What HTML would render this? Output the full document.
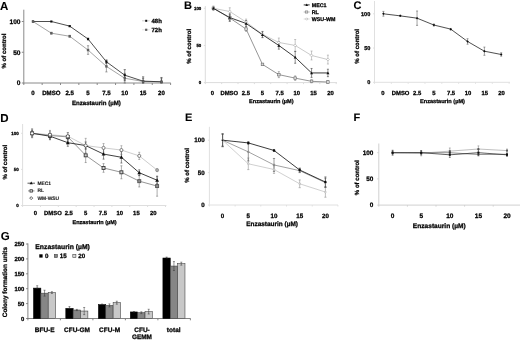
<!DOCTYPE html>
<html><head><meta charset="utf-8"><title>Figure</title>
<style>
html,body{margin:0;padding:0;background:#fff;}
body{width:520px;height:340px;overflow:hidden;font-family:"Liberation Sans", sans-serif;}
svg{display:block;font-family:"Liberation Sans", sans-serif;text-rendering:geometricPrecision;}
</style></head><body>
<svg width="520" height="340" viewBox="0 0 520 340">
<rect x="0" y="0" width="520" height="340" fill="#ffffff"/>
<defs><filter id="soft" x="0" y="0" width="520" height="340" filterUnits="userSpaceOnUse"><feGaussianBlur stdDeviation="0.3"/></filter></defs>
<g filter="url(#soft)">
<line x1="23.80" y1="9.70" x2="23.80" y2="83.50" stroke="#8a8a8a" stroke-width="1" />
<line x1="23.30" y1="83.00" x2="170.80" y2="83.00" stroke="#8a8a8a" stroke-width="1" />
<line x1="23.80" y1="83.00" x2="23.80" y2="85.00" stroke="#8a8a8a" stroke-width="1" />
<line x1="42.15" y1="83.00" x2="42.15" y2="85.00" stroke="#8a8a8a" stroke-width="1" />
<line x1="60.50" y1="83.00" x2="60.50" y2="85.00" stroke="#8a8a8a" stroke-width="1" />
<line x1="78.85" y1="83.00" x2="78.85" y2="85.00" stroke="#8a8a8a" stroke-width="1" />
<line x1="97.20" y1="83.00" x2="97.20" y2="85.00" stroke="#8a8a8a" stroke-width="1" />
<line x1="115.55" y1="83.00" x2="115.55" y2="85.00" stroke="#8a8a8a" stroke-width="1" />
<line x1="133.90" y1="83.00" x2="133.90" y2="85.00" stroke="#8a8a8a" stroke-width="1" />
<line x1="152.25" y1="83.00" x2="152.25" y2="85.00" stroke="#8a8a8a" stroke-width="1" />
<line x1="170.60" y1="83.00" x2="170.60" y2="85.00" stroke="#8a8a8a" stroke-width="1" />
<line x1="21.80" y1="83.00" x2="23.80" y2="83.00" stroke="#8a8a8a" stroke-width="1" />
<line x1="21.80" y1="52.25" x2="23.80" y2="52.25" stroke="#8a8a8a" stroke-width="1" />
<line x1="21.80" y1="21.50" x2="23.80" y2="21.50" stroke="#8a8a8a" stroke-width="1" />
<text x="0.00" y="9.80" font-size="11.5" font-weight="bold" text-anchor="start" fill="#000" stroke="#000" stroke-width="0.1" >A</text>
<text x="20.50" y="85.30" font-size="6.6" font-weight="bold" text-anchor="end" fill="#000" stroke="#000" stroke-width="0.26" >0</text>
<text x="20.50" y="54.55" font-size="6.6" font-weight="bold" text-anchor="end" fill="#000" stroke="#000" stroke-width="0.26" >50</text>
<text x="20.50" y="23.80" font-size="6.6" font-weight="bold" text-anchor="end" fill="#000" stroke="#000" stroke-width="0.26" >100</text>
<text x="6.30" y="51.10" font-size="6.05" font-weight="bold" text-anchor="middle" fill="#000" stroke="#000" stroke-width="0.26" transform="rotate(-90 6.30 51.10)" >% of control</text>
<text x="33.00" y="95.00" font-size="6.1" font-weight="bold" text-anchor="middle" fill="#000" stroke="#000" stroke-width="0.26" >0</text>
<text x="51.35" y="95.00" font-size="6.1" font-weight="bold" text-anchor="middle" fill="#000" stroke="#000" stroke-width="0.26" >DMSO</text>
<text x="69.70" y="95.00" font-size="6.1" font-weight="bold" text-anchor="middle" fill="#000" stroke="#000" stroke-width="0.26" >2.5</text>
<text x="88.05" y="95.00" font-size="6.1" font-weight="bold" text-anchor="middle" fill="#000" stroke="#000" stroke-width="0.26" >5</text>
<text x="106.40" y="95.00" font-size="6.1" font-weight="bold" text-anchor="middle" fill="#000" stroke="#000" stroke-width="0.26" >7.5</text>
<text x="124.75" y="95.00" font-size="6.1" font-weight="bold" text-anchor="middle" fill="#000" stroke="#000" stroke-width="0.26" >10</text>
<text x="143.10" y="95.00" font-size="6.1" font-weight="bold" text-anchor="middle" fill="#000" stroke="#000" stroke-width="0.26" >15</text>
<text x="161.45" y="95.00" font-size="6.1" font-weight="bold" text-anchor="middle" fill="#000" stroke="#000" stroke-width="0.26" >20</text>
<text x="96.40" y="104.50" font-size="6.1" font-weight="bold" text-anchor="middle" fill="#000" stroke="#000" stroke-width="0.26" >Enzastaurin (&#181;M)</text>
<polyline points="33.00,21.50 51.35,33.19 69.70,36.26 88.05,50.04 106.40,66.39 124.75,78.26 143.10,81.46 161.45,81.77" fill="none" stroke="#8e8e8e" stroke-width="0.8" stroke-linejoin="round"/>
<polyline points="33.00,21.50 51.35,21.50 69.70,26.11 88.05,39.03 106.40,61.78 124.75,75.19 143.10,81.16 161.45,81.77" fill="none" stroke="#2e2e2e" stroke-width="0.85" stroke-linejoin="round"/>
<line x1="51.35" y1="32.26" x2="51.35" y2="34.11" stroke="#666" stroke-width="0.6" />
<line x1="50.25" y1="32.26" x2="52.45" y2="32.26" stroke="#666" stroke-width="0.6" />
<line x1="50.25" y1="34.11" x2="52.45" y2="34.11" stroke="#666" stroke-width="0.6" />
<line x1="69.70" y1="35.34" x2="69.70" y2="37.18" stroke="#666" stroke-width="0.6" />
<line x1="68.60" y1="35.34" x2="70.80" y2="35.34" stroke="#666" stroke-width="0.6" />
<line x1="68.60" y1="37.18" x2="70.80" y2="37.18" stroke="#666" stroke-width="0.6" />
<line x1="88.05" y1="45.73" x2="88.05" y2="54.34" stroke="#666" stroke-width="0.6" />
<line x1="86.95" y1="45.73" x2="89.15" y2="45.73" stroke="#666" stroke-width="0.6" />
<line x1="86.95" y1="54.34" x2="89.15" y2="54.34" stroke="#666" stroke-width="0.6" />
<line x1="106.40" y1="60.86" x2="106.40" y2="71.93" stroke="#666" stroke-width="0.6" />
<line x1="105.30" y1="60.86" x2="107.50" y2="60.86" stroke="#666" stroke-width="0.6" />
<line x1="105.30" y1="71.93" x2="107.50" y2="71.93" stroke="#666" stroke-width="0.6" />
<line x1="124.75" y1="73.34" x2="124.75" y2="83.00" stroke="#666" stroke-width="0.6" />
<line x1="123.65" y1="73.34" x2="125.85" y2="73.34" stroke="#666" stroke-width="0.6" />
<line x1="123.65" y1="83.00" x2="125.85" y2="83.00" stroke="#666" stroke-width="0.6" />
<line x1="143.10" y1="78.39" x2="143.10" y2="83.00" stroke="#666" stroke-width="0.6" />
<line x1="142.00" y1="78.39" x2="144.20" y2="78.39" stroke="#666" stroke-width="0.6" />
<line x1="142.00" y1="83.00" x2="144.20" y2="83.00" stroke="#666" stroke-width="0.6" />
<line x1="161.45" y1="78.69" x2="161.45" y2="83.00" stroke="#666" stroke-width="0.6" />
<line x1="160.35" y1="78.69" x2="162.55" y2="78.69" stroke="#666" stroke-width="0.6" />
<line x1="160.35" y1="83.00" x2="162.55" y2="83.00" stroke="#666" stroke-width="0.6" />
<line x1="69.70" y1="25.50" x2="69.70" y2="26.73" stroke="#333" stroke-width="0.6" />
<line x1="68.60" y1="25.50" x2="70.80" y2="25.50" stroke="#333" stroke-width="0.6" />
<line x1="68.60" y1="26.73" x2="70.80" y2="26.73" stroke="#333" stroke-width="0.6" />
<line x1="88.05" y1="38.10" x2="88.05" y2="39.95" stroke="#333" stroke-width="0.6" />
<line x1="86.95" y1="38.10" x2="89.15" y2="38.10" stroke="#333" stroke-width="0.6" />
<line x1="86.95" y1="39.95" x2="89.15" y2="39.95" stroke="#333" stroke-width="0.6" />
<line x1="106.40" y1="59.94" x2="106.40" y2="63.63" stroke="#333" stroke-width="0.6" />
<line x1="105.30" y1="59.94" x2="107.50" y2="59.94" stroke="#333" stroke-width="0.6" />
<line x1="105.30" y1="63.63" x2="107.50" y2="63.63" stroke="#333" stroke-width="0.6" />
<line x1="124.75" y1="69.65" x2="124.75" y2="80.72" stroke="#333" stroke-width="0.6" />
<line x1="123.65" y1="69.65" x2="125.85" y2="69.65" stroke="#333" stroke-width="0.6" />
<line x1="123.65" y1="80.72" x2="125.85" y2="80.72" stroke="#333" stroke-width="0.6" />
<line x1="143.10" y1="76.85" x2="143.10" y2="83.00" stroke="#333" stroke-width="0.6" />
<line x1="142.00" y1="76.85" x2="144.20" y2="76.85" stroke="#333" stroke-width="0.6" />
<line x1="142.00" y1="83.00" x2="144.20" y2="83.00" stroke="#333" stroke-width="0.6" />
<line x1="161.45" y1="77.47" x2="161.45" y2="83.00" stroke="#333" stroke-width="0.6" />
<line x1="160.35" y1="77.47" x2="162.55" y2="77.47" stroke="#333" stroke-width="0.6" />
<line x1="160.35" y1="83.00" x2="162.55" y2="83.00" stroke="#333" stroke-width="0.6" />
<rect x="31.95" y="20.45" width="2.10" height="2.10" fill="#111" stroke="none" stroke-width="0.6"/>
<rect x="50.30" y="20.45" width="2.10" height="2.10" fill="#111" stroke="none" stroke-width="0.6"/>
<rect x="68.65" y="25.06" width="2.10" height="2.10" fill="#111" stroke="none" stroke-width="0.6"/>
<rect x="87.00" y="37.98" width="2.10" height="2.10" fill="#111" stroke="none" stroke-width="0.6"/>
<rect x="105.35" y="60.73" width="2.10" height="2.10" fill="#111" stroke="none" stroke-width="0.6"/>
<rect x="123.70" y="74.14" width="2.10" height="2.10" fill="#111" stroke="none" stroke-width="0.6"/>
<rect x="142.05" y="80.11" width="2.10" height="2.10" fill="#111" stroke="none" stroke-width="0.6"/>
<rect x="160.40" y="80.72" width="2.10" height="2.10" fill="#111" stroke="none" stroke-width="0.6"/>
<rect x="31.80" y="20.30" width="2.40" height="2.40" fill="#5e5e5e" stroke="none" stroke-width="0.6"/>
<rect x="50.15" y="31.99" width="2.40" height="2.40" fill="#5e5e5e" stroke="none" stroke-width="0.6"/>
<rect x="68.50" y="35.06" width="2.40" height="2.40" fill="#5e5e5e" stroke="none" stroke-width="0.6"/>
<rect x="86.85" y="48.84" width="2.40" height="2.40" fill="#5e5e5e" stroke="none" stroke-width="0.6"/>
<rect x="105.20" y="65.19" width="2.40" height="2.40" fill="#5e5e5e" stroke="none" stroke-width="0.6"/>
<rect x="123.55" y="77.06" width="2.40" height="2.40" fill="#5e5e5e" stroke="none" stroke-width="0.6"/>
<rect x="141.90" y="80.26" width="2.40" height="2.40" fill="#5e5e5e" stroke="none" stroke-width="0.6"/>
<rect x="160.25" y="80.57" width="2.40" height="2.40" fill="#5e5e5e" stroke="none" stroke-width="0.6"/>
<line x1="142.00" y1="20.80" x2="149.70" y2="20.80" stroke="#bbb" stroke-width="0.7" />
<rect x="145.20" y="19.80" width="2.00" height="2.00" fill="#111" stroke="none" stroke-width="0.6"/>
<text x="151.50" y="23.10" font-size="6.0" font-weight="bold" text-anchor="start" fill="#000" stroke="#000" stroke-width="0.26" >48h</text>
<line x1="142.00" y1="29.80" x2="149.70" y2="29.80" stroke="#ddd" stroke-width="0.7" />
<rect x="145.10" y="28.70" width="2.20" height="2.20" fill="#5e5e5e" stroke="none" stroke-width="0.6"/>
<text x="151.50" y="32.00" font-size="6.0" font-weight="bold" text-anchor="start" fill="#000" stroke="#000" stroke-width="0.26" >72h</text>
<line x1="205.30" y1="6.00" x2="205.30" y2="83.10" stroke="#dcdcdc" stroke-width="1" />
<line x1="204.80" y1="82.60" x2="337.00" y2="82.60" stroke="#dcdcdc" stroke-width="1" />
<line x1="205.30" y1="82.60" x2="205.30" y2="84.10" stroke="#dcdcdc" stroke-width="1" />
<line x1="221.66" y1="82.60" x2="221.66" y2="84.10" stroke="#dcdcdc" stroke-width="1" />
<line x1="238.02" y1="82.60" x2="238.02" y2="84.10" stroke="#dcdcdc" stroke-width="1" />
<line x1="254.38" y1="82.60" x2="254.38" y2="84.10" stroke="#dcdcdc" stroke-width="1" />
<line x1="270.74" y1="82.60" x2="270.74" y2="84.10" stroke="#dcdcdc" stroke-width="1" />
<line x1="287.10" y1="82.60" x2="287.10" y2="84.10" stroke="#dcdcdc" stroke-width="1" />
<line x1="303.46" y1="82.60" x2="303.46" y2="84.10" stroke="#dcdcdc" stroke-width="1" />
<line x1="319.82" y1="82.60" x2="319.82" y2="84.10" stroke="#dcdcdc" stroke-width="1" />
<line x1="336.18" y1="82.60" x2="336.18" y2="84.10" stroke="#dcdcdc" stroke-width="1" />
<line x1="203.80" y1="82.60" x2="205.30" y2="82.60" stroke="#dcdcdc" stroke-width="1" />
<line x1="203.80" y1="45.45" x2="205.30" y2="45.45" stroke="#dcdcdc" stroke-width="1" />
<line x1="203.80" y1="8.30" x2="205.30" y2="8.30" stroke="#dcdcdc" stroke-width="1" />
<text x="184.00" y="9.30" font-size="11" font-weight="bold" text-anchor="start" fill="#000" stroke="#000" stroke-width="0.1" >B</text>
<text x="201.30" y="84.20" font-size="4.4" font-weight="bold" text-anchor="end" fill="#000" stroke="#000" stroke-width="0.26" >0</text>
<text x="201.30" y="47.05" font-size="4.4" font-weight="bold" text-anchor="end" fill="#000" stroke="#000" stroke-width="0.26" >50</text>
<text x="201.30" y="9.90" font-size="4.4" font-weight="bold" text-anchor="end" fill="#000" stroke="#000" stroke-width="0.26" >100</text>
<text x="191.00" y="46.40" font-size="6.05" font-weight="bold" text-anchor="middle" fill="#000" stroke="#000" stroke-width="0.26" transform="rotate(-90 191.00 46.40)" >% of control</text>
<text x="212.40" y="95.00" font-size="5.9" font-weight="bold" text-anchor="middle" fill="#000" stroke="#000" stroke-width="0.26" >0</text>
<text x="229.30" y="95.00" font-size="5.9" font-weight="bold" text-anchor="middle" fill="#000" stroke="#000" stroke-width="0.26" >DMSO</text>
<text x="245.90" y="95.00" font-size="5.9" font-weight="bold" text-anchor="middle" fill="#000" stroke="#000" stroke-width="0.26" >2.5</text>
<text x="262.40" y="95.00" font-size="5.9" font-weight="bold" text-anchor="middle" fill="#000" stroke="#000" stroke-width="0.26" >5</text>
<text x="279.70" y="95.00" font-size="5.9" font-weight="bold" text-anchor="middle" fill="#000" stroke="#000" stroke-width="0.26" >7.5</text>
<text x="296.80" y="95.00" font-size="5.9" font-weight="bold" text-anchor="middle" fill="#000" stroke="#000" stroke-width="0.26" >10</text>
<text x="313.60" y="95.00" font-size="5.9" font-weight="bold" text-anchor="middle" fill="#000" stroke="#000" stroke-width="0.26" >15</text>
<text x="330.50" y="95.00" font-size="5.9" font-weight="bold" text-anchor="middle" fill="#000" stroke="#000" stroke-width="0.26" >20</text>
<text x="271.30" y="103.10" font-size="5.55" font-weight="bold" text-anchor="middle" fill="#000" stroke="#000" stroke-width="0.26" >Enzastaurin (&#181;M)</text>
<polyline points="213.40,8.30 229.76,11.49 246.12,22.05 262.48,34.30 278.84,42.48 295.20,45.45 311.56,55.48 327.92,59.57" fill="none" stroke="#c4c4c4" stroke-width="0.9" stroke-linejoin="round"/>
<polyline points="213.40,8.30 229.76,17.96 246.12,29.10 262.48,64.40 278.84,74.65 295.20,78.14 311.56,81.34 327.92,82.01" fill="none" stroke="#8a8a8a" stroke-width="0.9" stroke-linejoin="round"/>
<polyline points="213.40,8.30 229.76,17.59 246.12,23.46 262.48,34.68 278.84,45.45 295.20,57.34 311.56,72.94 327.92,72.94" fill="none" stroke="#262626" stroke-width="0.9" stroke-linejoin="round"/>
<line x1="229.76" y1="7.78" x2="229.76" y2="15.21" stroke="#999" stroke-width="0.55" />
<line x1="228.76" y1="7.78" x2="230.76" y2="7.78" stroke="#999" stroke-width="0.55" />
<line x1="228.76" y1="15.21" x2="230.76" y2="15.21" stroke="#999" stroke-width="0.55" />
<line x1="246.12" y1="19.07" x2="246.12" y2="25.02" stroke="#999" stroke-width="0.55" />
<line x1="245.12" y1="19.07" x2="247.12" y2="19.07" stroke="#999" stroke-width="0.55" />
<line x1="245.12" y1="25.02" x2="247.12" y2="25.02" stroke="#999" stroke-width="0.55" />
<line x1="262.48" y1="31.33" x2="262.48" y2="37.28" stroke="#999" stroke-width="0.55" />
<line x1="261.48" y1="31.33" x2="263.48" y2="31.33" stroke="#999" stroke-width="0.55" />
<line x1="261.48" y1="37.28" x2="263.48" y2="37.28" stroke="#999" stroke-width="0.55" />
<line x1="278.84" y1="38.02" x2="278.84" y2="46.94" stroke="#999" stroke-width="0.55" />
<line x1="277.84" y1="38.02" x2="279.84" y2="38.02" stroke="#999" stroke-width="0.55" />
<line x1="277.84" y1="46.94" x2="279.84" y2="46.94" stroke="#999" stroke-width="0.55" />
<line x1="295.20" y1="39.51" x2="295.20" y2="51.39" stroke="#999" stroke-width="0.55" />
<line x1="294.20" y1="39.51" x2="296.20" y2="39.51" stroke="#999" stroke-width="0.55" />
<line x1="294.20" y1="51.39" x2="296.20" y2="51.39" stroke="#999" stroke-width="0.55" />
<line x1="311.56" y1="51.02" x2="311.56" y2="59.94" stroke="#999" stroke-width="0.55" />
<line x1="310.56" y1="51.02" x2="312.56" y2="51.02" stroke="#999" stroke-width="0.55" />
<line x1="310.56" y1="59.94" x2="312.56" y2="59.94" stroke="#999" stroke-width="0.55" />
<line x1="327.92" y1="55.11" x2="327.92" y2="64.02" stroke="#999" stroke-width="0.55" />
<line x1="326.92" y1="55.11" x2="328.92" y2="55.11" stroke="#999" stroke-width="0.55" />
<line x1="326.92" y1="64.02" x2="328.92" y2="64.02" stroke="#999" stroke-width="0.55" />
<line x1="213.40" y1="6.07" x2="213.40" y2="10.53" stroke="#777" stroke-width="0.55" />
<line x1="212.40" y1="6.07" x2="214.40" y2="6.07" stroke="#777" stroke-width="0.55" />
<line x1="212.40" y1="10.53" x2="214.40" y2="10.53" stroke="#777" stroke-width="0.55" />
<line x1="229.76" y1="14.99" x2="229.76" y2="20.93" stroke="#777" stroke-width="0.55" />
<line x1="228.76" y1="14.99" x2="230.76" y2="14.99" stroke="#777" stroke-width="0.55" />
<line x1="228.76" y1="20.93" x2="230.76" y2="20.93" stroke="#777" stroke-width="0.55" />
<line x1="246.12" y1="26.87" x2="246.12" y2="31.33" stroke="#777" stroke-width="0.55" />
<line x1="245.12" y1="26.87" x2="247.12" y2="26.87" stroke="#777" stroke-width="0.55" />
<line x1="245.12" y1="31.33" x2="247.12" y2="31.33" stroke="#777" stroke-width="0.55" />
<line x1="262.48" y1="63.65" x2="262.48" y2="65.14" stroke="#777" stroke-width="0.55" />
<line x1="261.48" y1="63.65" x2="263.48" y2="63.65" stroke="#777" stroke-width="0.55" />
<line x1="261.48" y1="65.14" x2="263.48" y2="65.14" stroke="#777" stroke-width="0.55" />
<line x1="278.84" y1="71.68" x2="278.84" y2="77.62" stroke="#777" stroke-width="0.55" />
<line x1="277.84" y1="71.68" x2="279.84" y2="71.68" stroke="#777" stroke-width="0.55" />
<line x1="277.84" y1="77.62" x2="279.84" y2="77.62" stroke="#777" stroke-width="0.55" />
<line x1="295.20" y1="75.91" x2="295.20" y2="80.37" stroke="#777" stroke-width="0.55" />
<line x1="294.20" y1="75.91" x2="296.20" y2="75.91" stroke="#777" stroke-width="0.55" />
<line x1="294.20" y1="80.37" x2="296.20" y2="80.37" stroke="#777" stroke-width="0.55" />
<line x1="311.56" y1="79.85" x2="311.56" y2="82.82" stroke="#777" stroke-width="0.55" />
<line x1="310.56" y1="79.85" x2="312.56" y2="79.85" stroke="#777" stroke-width="0.55" />
<line x1="310.56" y1="82.82" x2="312.56" y2="82.82" stroke="#777" stroke-width="0.55" />
<line x1="327.92" y1="80.52" x2="327.92" y2="83.34" stroke="#777" stroke-width="0.55" />
<line x1="326.92" y1="80.52" x2="328.92" y2="80.52" stroke="#777" stroke-width="0.55" />
<line x1="326.92" y1="83.34" x2="328.92" y2="83.34" stroke="#777" stroke-width="0.55" />
<line x1="229.76" y1="13.87" x2="229.76" y2="21.30" stroke="#333" stroke-width="0.55" />
<line x1="228.76" y1="13.87" x2="230.76" y2="13.87" stroke="#333" stroke-width="0.55" />
<line x1="228.76" y1="21.30" x2="230.76" y2="21.30" stroke="#333" stroke-width="0.55" />
<line x1="246.12" y1="20.49" x2="246.12" y2="26.43" stroke="#333" stroke-width="0.55" />
<line x1="245.12" y1="20.49" x2="247.12" y2="20.49" stroke="#333" stroke-width="0.55" />
<line x1="245.12" y1="26.43" x2="247.12" y2="26.43" stroke="#333" stroke-width="0.55" />
<line x1="262.48" y1="31.70" x2="262.48" y2="37.65" stroke="#333" stroke-width="0.55" />
<line x1="261.48" y1="31.70" x2="263.48" y2="31.70" stroke="#333" stroke-width="0.55" />
<line x1="261.48" y1="37.65" x2="263.48" y2="37.65" stroke="#333" stroke-width="0.55" />
<line x1="278.84" y1="41.73" x2="278.84" y2="49.16" stroke="#333" stroke-width="0.55" />
<line x1="277.84" y1="41.73" x2="279.84" y2="41.73" stroke="#333" stroke-width="0.55" />
<line x1="277.84" y1="49.16" x2="279.84" y2="49.16" stroke="#333" stroke-width="0.55" />
<line x1="295.20" y1="51.39" x2="295.20" y2="63.28" stroke="#333" stroke-width="0.55" />
<line x1="294.20" y1="51.39" x2="296.20" y2="51.39" stroke="#333" stroke-width="0.55" />
<line x1="294.20" y1="63.28" x2="296.20" y2="63.28" stroke="#333" stroke-width="0.55" />
<line x1="311.56" y1="68.48" x2="311.56" y2="77.40" stroke="#333" stroke-width="0.55" />
<line x1="310.56" y1="68.48" x2="312.56" y2="68.48" stroke="#333" stroke-width="0.55" />
<line x1="310.56" y1="77.40" x2="312.56" y2="77.40" stroke="#333" stroke-width="0.55" />
<line x1="327.92" y1="69.23" x2="327.92" y2="76.66" stroke="#333" stroke-width="0.55" />
<line x1="326.92" y1="69.23" x2="328.92" y2="69.23" stroke="#333" stroke-width="0.55" />
<line x1="326.92" y1="76.66" x2="328.92" y2="76.66" stroke="#333" stroke-width="0.55" />
<polygon points="213.40,6.90 214.80,8.30 213.40,9.70 212.00,8.30" fill="#fff" stroke="#9a9a9a" stroke-width="0.5"/>
<polygon points="229.76,10.09 231.16,11.49 229.76,12.89 228.36,11.49" fill="#fff" stroke="#9a9a9a" stroke-width="0.5"/>
<polygon points="246.12,20.65 247.52,22.05 246.12,23.45 244.72,22.05" fill="#fff" stroke="#9a9a9a" stroke-width="0.5"/>
<polygon points="262.48,32.90 263.88,34.30 262.48,35.70 261.08,34.30" fill="#fff" stroke="#9a9a9a" stroke-width="0.5"/>
<polygon points="278.84,41.08 280.24,42.48 278.84,43.88 277.44,42.48" fill="#fff" stroke="#9a9a9a" stroke-width="0.5"/>
<polygon points="295.20,44.05 296.60,45.45 295.20,46.85 293.80,45.45" fill="#fff" stroke="#9a9a9a" stroke-width="0.5"/>
<polygon points="311.56,54.08 312.96,55.48 311.56,56.88 310.16,55.48" fill="#fff" stroke="#9a9a9a" stroke-width="0.5"/>
<polygon points="327.92,58.17 329.32,59.57 327.92,60.97 326.52,59.57" fill="#fff" stroke="#9a9a9a" stroke-width="0.5"/>
<rect x="212.10" y="7.00" width="2.60" height="2.60" fill="#d8d8d8" stroke="#6e6e6e" stroke-width="0.6"/>
<rect x="228.46" y="16.66" width="2.60" height="2.60" fill="#d8d8d8" stroke="#6e6e6e" stroke-width="0.6"/>
<rect x="244.82" y="27.80" width="2.60" height="2.60" fill="#d8d8d8" stroke="#6e6e6e" stroke-width="0.6"/>
<rect x="261.18" y="63.10" width="2.60" height="2.60" fill="#d8d8d8" stroke="#6e6e6e" stroke-width="0.6"/>
<rect x="277.54" y="73.35" width="2.60" height="2.60" fill="#d8d8d8" stroke="#6e6e6e" stroke-width="0.6"/>
<rect x="293.90" y="76.84" width="2.60" height="2.60" fill="#d8d8d8" stroke="#6e6e6e" stroke-width="0.6"/>
<rect x="310.26" y="80.04" width="2.60" height="2.60" fill="#d8d8d8" stroke="#6e6e6e" stroke-width="0.6"/>
<rect x="326.62" y="80.71" width="2.60" height="2.60" fill="#d8d8d8" stroke="#6e6e6e" stroke-width="0.6"/>
<polygon points="213.40,6.80 214.90,9.50 211.90,9.50" fill="#111" stroke="none" stroke-width="0.6"/>
<polygon points="229.76,16.09 231.26,18.79 228.26,18.79" fill="#111" stroke="none" stroke-width="0.6"/>
<polygon points="246.12,21.96 247.62,24.66 244.62,24.66" fill="#111" stroke="none" stroke-width="0.6"/>
<polygon points="262.48,33.18 263.98,35.88 260.98,35.88" fill="#111" stroke="none" stroke-width="0.6"/>
<polygon points="278.84,43.95 280.34,46.65 277.34,46.65" fill="#111" stroke="none" stroke-width="0.6"/>
<polygon points="295.20,55.84 296.70,58.54 293.70,58.54" fill="#111" stroke="none" stroke-width="0.6"/>
<polygon points="311.56,71.44 313.06,74.14 310.06,74.14" fill="#111" stroke="none" stroke-width="0.6"/>
<polygon points="327.92,71.44 329.42,74.14 326.42,74.14" fill="#111" stroke="none" stroke-width="0.6"/>
<line x1="303.70" y1="4.90" x2="309.70" y2="4.90" stroke="#222" stroke-width="0.9" />
<polygon points="306.70,3.60 308.00,5.94 305.40,5.94" fill="#111" stroke="none" stroke-width="0.6"/>
<text x="311.80" y="6.90" font-size="5.3" font-weight="bold" text-anchor="start" fill="#000" stroke="#000" stroke-width="0.26" >MEC1</text>
<line x1="303.70" y1="12.00" x2="309.70" y2="12.00" stroke="#999" stroke-width="0.7" />
<rect x="305.60" y="10.90" width="2.20" height="2.20" fill="#d8d8d8" stroke="#6e6e6e" stroke-width="0.5"/>
<text x="311.80" y="14.00" font-size="5.3" font-weight="bold" text-anchor="start" fill="#000" stroke="#000" stroke-width="0.26" >RL</text>
<line x1="303.70" y1="19.00" x2="309.70" y2="19.00" stroke="#ccc" stroke-width="0.7" />
<polygon points="306.70,17.80 307.90,19.00 306.70,20.20 305.50,19.00" fill="#fff" stroke="#999" stroke-width="0.5"/>
<text x="311.80" y="21.00" font-size="5.3" font-weight="bold" text-anchor="start" fill="#000" stroke="#000" stroke-width="0.26" >WSU-WM</text>
<line x1="374.50" y1="1.00" x2="374.50" y2="82.80" stroke="#e0e0e0" stroke-width="1" />
<line x1="374.00" y1="82.30" x2="510.00" y2="82.30" stroke="#e0e0e0" stroke-width="1" />
<line x1="374.50" y1="82.30" x2="374.50" y2="83.80" stroke="#e0e0e0" stroke-width="1" />
<line x1="391.33" y1="82.30" x2="391.33" y2="83.80" stroke="#e0e0e0" stroke-width="1" />
<line x1="408.16" y1="82.30" x2="408.16" y2="83.80" stroke="#e0e0e0" stroke-width="1" />
<line x1="424.99" y1="82.30" x2="424.99" y2="83.80" stroke="#e0e0e0" stroke-width="1" />
<line x1="441.82" y1="82.30" x2="441.82" y2="83.80" stroke="#e0e0e0" stroke-width="1" />
<line x1="458.65" y1="82.30" x2="458.65" y2="83.80" stroke="#e0e0e0" stroke-width="1" />
<line x1="475.48" y1="82.30" x2="475.48" y2="83.80" stroke="#e0e0e0" stroke-width="1" />
<line x1="492.31" y1="82.30" x2="492.31" y2="83.80" stroke="#e0e0e0" stroke-width="1" />
<line x1="509.14" y1="82.30" x2="509.14" y2="83.80" stroke="#e0e0e0" stroke-width="1" />
<line x1="373.00" y1="82.30" x2="374.50" y2="82.30" stroke="#e0e0e0" stroke-width="1" />
<line x1="373.00" y1="48.05" x2="374.50" y2="48.05" stroke="#e0e0e0" stroke-width="1" />
<line x1="373.00" y1="13.80" x2="374.50" y2="13.80" stroke="#e0e0e0" stroke-width="1" />
<text x="353.60" y="9.00" font-size="11" font-weight="bold" text-anchor="start" fill="#000" stroke="#000" stroke-width="0.1" >C</text>
<text x="370.30" y="84.30" font-size="5.55" font-weight="bold" text-anchor="end" fill="#000" stroke="#000" stroke-width="0.26" >0</text>
<text x="370.30" y="50.05" font-size="5.55" font-weight="bold" text-anchor="end" fill="#000" stroke="#000" stroke-width="0.26" >50</text>
<text x="370.30" y="15.80" font-size="5.55" font-weight="bold" text-anchor="end" fill="#000" stroke="#000" stroke-width="0.26" >100</text>
<text x="359.00" y="46.30" font-size="6.0" font-weight="bold" text-anchor="middle" fill="#000" stroke="#000" stroke-width="0.26" transform="rotate(-90 359.00 46.30)" >% of control</text>
<text x="382.90" y="95.10" font-size="5.9" font-weight="bold" text-anchor="middle" fill="#000" stroke="#000" stroke-width="0.26" >0</text>
<text x="400.60" y="95.10" font-size="5.9" font-weight="bold" text-anchor="middle" fill="#000" stroke="#000" stroke-width="0.26" >DMSO</text>
<text x="417.20" y="95.10" font-size="5.9" font-weight="bold" text-anchor="middle" fill="#000" stroke="#000" stroke-width="0.26" >2.5</text>
<text x="433.90" y="95.10" font-size="5.9" font-weight="bold" text-anchor="middle" fill="#000" stroke="#000" stroke-width="0.26" >5</text>
<text x="451.00" y="95.10" font-size="5.9" font-weight="bold" text-anchor="middle" fill="#000" stroke="#000" stroke-width="0.26" >7.5</text>
<text x="468.00" y="95.10" font-size="5.9" font-weight="bold" text-anchor="middle" fill="#000" stroke="#000" stroke-width="0.26" >10</text>
<text x="484.70" y="95.10" font-size="5.9" font-weight="bold" text-anchor="middle" fill="#000" stroke="#000" stroke-width="0.26" >15</text>
<text x="501.50" y="95.10" font-size="5.9" font-weight="bold" text-anchor="middle" fill="#000" stroke="#000" stroke-width="0.26" >20</text>
<text x="442.50" y="103.10" font-size="5.6" font-weight="bold" text-anchor="middle" fill="#000" stroke="#000" stroke-width="0.26" >Enzastaurin (&#181;M)</text>
<polyline points="383.40,13.80 400.23,15.86 417.06,18.18 433.89,25.03 450.72,29.14 467.55,41.47 484.38,51.20 501.21,54.49" fill="none" stroke="#222" stroke-width="0.8" stroke-linejoin="round"/>
<line x1="383.40" y1="11.40" x2="383.40" y2="16.20" stroke="#555" stroke-width="0.55" />
<line x1="382.40" y1="11.40" x2="384.40" y2="11.40" stroke="#555" stroke-width="0.55" />
<line x1="382.40" y1="16.20" x2="384.40" y2="16.20" stroke="#555" stroke-width="0.55" />
<line x1="400.23" y1="15.31" x2="400.23" y2="16.40" stroke="#555" stroke-width="0.55" />
<line x1="399.23" y1="15.31" x2="401.23" y2="15.31" stroke="#555" stroke-width="0.55" />
<line x1="399.23" y1="16.40" x2="401.23" y2="16.40" stroke="#555" stroke-width="0.55" />
<line x1="417.06" y1="10.99" x2="417.06" y2="25.38" stroke="#555" stroke-width="0.55" />
<line x1="416.06" y1="10.99" x2="418.06" y2="10.99" stroke="#555" stroke-width="0.55" />
<line x1="416.06" y1="25.38" x2="418.06" y2="25.38" stroke="#555" stroke-width="0.55" />
<line x1="433.89" y1="24.01" x2="433.89" y2="26.06" stroke="#555" stroke-width="0.55" />
<line x1="432.89" y1="24.01" x2="434.89" y2="24.01" stroke="#555" stroke-width="0.55" />
<line x1="432.89" y1="26.06" x2="434.89" y2="26.06" stroke="#555" stroke-width="0.55" />
<line x1="450.72" y1="28.46" x2="450.72" y2="29.83" stroke="#555" stroke-width="0.55" />
<line x1="449.72" y1="28.46" x2="451.72" y2="28.46" stroke="#555" stroke-width="0.55" />
<line x1="449.72" y1="29.83" x2="451.72" y2="29.83" stroke="#555" stroke-width="0.55" />
<line x1="467.55" y1="38.73" x2="467.55" y2="44.21" stroke="#555" stroke-width="0.55" />
<line x1="466.55" y1="38.73" x2="468.55" y2="38.73" stroke="#555" stroke-width="0.55" />
<line x1="466.55" y1="44.21" x2="468.55" y2="44.21" stroke="#555" stroke-width="0.55" />
<line x1="484.38" y1="47.09" x2="484.38" y2="55.31" stroke="#555" stroke-width="0.55" />
<line x1="483.38" y1="47.09" x2="485.38" y2="47.09" stroke="#555" stroke-width="0.55" />
<line x1="483.38" y1="55.31" x2="485.38" y2="55.31" stroke="#555" stroke-width="0.55" />
<line x1="501.21" y1="52.78" x2="501.21" y2="56.20" stroke="#555" stroke-width="0.55" />
<line x1="500.21" y1="52.78" x2="502.21" y2="52.78" stroke="#555" stroke-width="0.55" />
<line x1="500.21" y1="56.20" x2="502.21" y2="56.20" stroke="#555" stroke-width="0.55" />
<polygon points="383.40,12.55 384.65,13.80 383.40,15.05 382.15,13.80" fill="#111" stroke="none" stroke-width="0.6"/>
<polygon points="400.23,14.61 401.48,15.86 400.23,17.11 398.98,15.86" fill="#111" stroke="none" stroke-width="0.6"/>
<polygon points="417.06,16.93 418.31,18.18 417.06,19.43 415.81,18.18" fill="#111" stroke="none" stroke-width="0.6"/>
<polygon points="433.89,23.78 435.14,25.03 433.89,26.28 432.64,25.03" fill="#111" stroke="none" stroke-width="0.6"/>
<polygon points="450.72,27.89 451.97,29.14 450.72,30.39 449.47,29.14" fill="#111" stroke="none" stroke-width="0.6"/>
<polygon points="467.55,40.22 468.80,41.47 467.55,42.72 466.30,41.47" fill="#111" stroke="none" stroke-width="0.6"/>
<polygon points="484.38,49.95 485.63,51.20 484.38,52.45 483.13,51.20" fill="#111" stroke="none" stroke-width="0.6"/>
<polygon points="501.21,53.24 502.46,54.49 501.21,55.74 499.96,54.49" fill="#111" stroke="none" stroke-width="0.6"/>
<line x1="22.60" y1="124.00" x2="22.60" y2="206.00" stroke="#dedede" stroke-width="1" />
<line x1="22.10" y1="205.50" x2="166.40" y2="205.50" stroke="#dedede" stroke-width="1" />
<line x1="22.60" y1="205.50" x2="22.60" y2="207.00" stroke="#dedede" stroke-width="1" />
<line x1="40.46" y1="205.50" x2="40.46" y2="207.00" stroke="#dedede" stroke-width="1" />
<line x1="58.32" y1="205.50" x2="58.32" y2="207.00" stroke="#dedede" stroke-width="1" />
<line x1="76.18" y1="205.50" x2="76.18" y2="207.00" stroke="#dedede" stroke-width="1" />
<line x1="94.04" y1="205.50" x2="94.04" y2="207.00" stroke="#dedede" stroke-width="1" />
<line x1="111.90" y1="205.50" x2="111.90" y2="207.00" stroke="#dedede" stroke-width="1" />
<line x1="129.76" y1="205.50" x2="129.76" y2="207.00" stroke="#dedede" stroke-width="1" />
<line x1="147.62" y1="205.50" x2="147.62" y2="207.00" stroke="#dedede" stroke-width="1" />
<line x1="165.48" y1="205.50" x2="165.48" y2="207.00" stroke="#dedede" stroke-width="1" />
<line x1="21.10" y1="205.50" x2="22.60" y2="205.50" stroke="#dedede" stroke-width="1" />
<line x1="21.10" y1="169.40" x2="22.60" y2="169.40" stroke="#dedede" stroke-width="1" />
<line x1="21.10" y1="133.30" x2="22.60" y2="133.30" stroke="#dedede" stroke-width="1" />
<text x="0.30" y="122.00" font-size="11.5" font-weight="bold" text-anchor="start" fill="#000" stroke="#000" stroke-width="0.1" >D</text>
<text x="18.80" y="207.10" font-size="4.5" font-weight="bold" text-anchor="end" fill="#000" stroke="#000" stroke-width="0.26" >0</text>
<text x="18.80" y="171.00" font-size="4.5" font-weight="bold" text-anchor="end" fill="#000" stroke="#000" stroke-width="0.26" >50</text>
<text x="18.80" y="134.90" font-size="4.5" font-weight="bold" text-anchor="end" fill="#000" stroke="#000" stroke-width="0.26" >100</text>
<text x="6.80" y="162.20" font-size="6.0" font-weight="bold" text-anchor="middle" fill="#000" stroke="#000" stroke-width="0.26" transform="rotate(-90 6.80 162.20)" >% of control</text>
<text x="35.30" y="215.00" font-size="5.9" font-weight="bold" text-anchor="middle" fill="#000" stroke="#000" stroke-width="0.26" >0</text>
<text x="52.90" y="215.00" font-size="5.9" font-weight="bold" text-anchor="middle" fill="#000" stroke="#000" stroke-width="0.26" >DMSO</text>
<text x="68.80" y="215.00" font-size="5.9" font-weight="bold" text-anchor="middle" fill="#000" stroke="#000" stroke-width="0.26" >2.5</text>
<text x="85.60" y="215.00" font-size="5.9" font-weight="bold" text-anchor="middle" fill="#000" stroke="#000" stroke-width="0.26" >5</text>
<text x="102.90" y="215.00" font-size="5.9" font-weight="bold" text-anchor="middle" fill="#000" stroke="#000" stroke-width="0.26" >7.5</text>
<text x="119.70" y="215.00" font-size="5.9" font-weight="bold" text-anchor="middle" fill="#000" stroke="#000" stroke-width="0.26" >10</text>
<text x="136.40" y="215.00" font-size="5.9" font-weight="bold" text-anchor="middle" fill="#000" stroke="#000" stroke-width="0.26" >15</text>
<text x="153.20" y="215.00" font-size="5.9" font-weight="bold" text-anchor="middle" fill="#000" stroke="#000" stroke-width="0.26" >20</text>
<text x="94.60" y="224.30" font-size="5.5" font-weight="bold" text-anchor="middle" fill="#000" stroke="#000" stroke-width="0.26" >Enzastaurin (&#181;M)</text>
<polyline points="32.10,133.30 49.96,134.74 67.82,136.19 85.68,145.57 103.54,147.88 121.40,150.05 139.26,155.90 157.12,170.12" fill="none" stroke="#c0c0c0" stroke-width="0.8" stroke-linejoin="round"/>
<polyline points="32.10,133.30 49.96,135.47 67.82,136.91 85.68,155.32 103.54,167.96 121.40,172.29 139.26,181.17 157.12,186.08" fill="none" stroke="#8a8a8a" stroke-width="0.9" stroke-linejoin="round"/>
<polyline points="32.10,133.30 49.96,136.19 67.82,142.69 85.68,145.57 103.54,154.09 121.40,157.27 139.26,172.72 157.12,180.23" fill="none" stroke="#2a2a2a" stroke-width="0.9" stroke-linejoin="round"/>
<line x1="32.10" y1="128.97" x2="32.10" y2="137.63" stroke="#8a8a8a" stroke-width="0.6" />
<line x1="31.10" y1="128.97" x2="33.10" y2="128.97" stroke="#8a8a8a" stroke-width="0.6" />
<line x1="31.10" y1="137.63" x2="33.10" y2="137.63" stroke="#8a8a8a" stroke-width="0.6" />
<line x1="49.96" y1="130.41" x2="49.96" y2="139.08" stroke="#8a8a8a" stroke-width="0.6" />
<line x1="48.96" y1="130.41" x2="50.96" y2="130.41" stroke="#8a8a8a" stroke-width="0.6" />
<line x1="48.96" y1="139.08" x2="50.96" y2="139.08" stroke="#8a8a8a" stroke-width="0.6" />
<line x1="67.82" y1="132.58" x2="67.82" y2="139.80" stroke="#8a8a8a" stroke-width="0.6" />
<line x1="66.82" y1="132.58" x2="68.82" y2="132.58" stroke="#8a8a8a" stroke-width="0.6" />
<line x1="66.82" y1="139.80" x2="68.82" y2="139.80" stroke="#8a8a8a" stroke-width="0.6" />
<line x1="85.68" y1="138.35" x2="85.68" y2="152.79" stroke="#8a8a8a" stroke-width="0.6" />
<line x1="84.68" y1="138.35" x2="86.68" y2="138.35" stroke="#8a8a8a" stroke-width="0.6" />
<line x1="84.68" y1="152.79" x2="86.68" y2="152.79" stroke="#8a8a8a" stroke-width="0.6" />
<line x1="103.54" y1="143.55" x2="103.54" y2="152.22" stroke="#8a8a8a" stroke-width="0.6" />
<line x1="102.54" y1="143.55" x2="104.54" y2="143.55" stroke="#8a8a8a" stroke-width="0.6" />
<line x1="102.54" y1="152.22" x2="104.54" y2="152.22" stroke="#8a8a8a" stroke-width="0.6" />
<line x1="121.40" y1="145.72" x2="121.40" y2="154.38" stroke="#8a8a8a" stroke-width="0.6" />
<line x1="120.40" y1="145.72" x2="122.40" y2="145.72" stroke="#8a8a8a" stroke-width="0.6" />
<line x1="120.40" y1="154.38" x2="122.40" y2="154.38" stroke="#8a8a8a" stroke-width="0.6" />
<line x1="139.26" y1="152.29" x2="139.26" y2="159.51" stroke="#8a8a8a" stroke-width="0.6" />
<line x1="138.26" y1="152.29" x2="140.26" y2="152.29" stroke="#8a8a8a" stroke-width="0.6" />
<line x1="138.26" y1="159.51" x2="140.26" y2="159.51" stroke="#8a8a8a" stroke-width="0.6" />
<line x1="157.12" y1="168.68" x2="157.12" y2="171.57" stroke="#8a8a8a" stroke-width="0.6" />
<line x1="156.12" y1="168.68" x2="158.12" y2="168.68" stroke="#8a8a8a" stroke-width="0.6" />
<line x1="156.12" y1="171.57" x2="158.12" y2="171.57" stroke="#8a8a8a" stroke-width="0.6" />
<line x1="32.10" y1="128.97" x2="32.10" y2="137.63" stroke="#777" stroke-width="0.6" />
<line x1="31.10" y1="128.97" x2="33.10" y2="128.97" stroke="#777" stroke-width="0.6" />
<line x1="31.10" y1="137.63" x2="33.10" y2="137.63" stroke="#777" stroke-width="0.6" />
<line x1="49.96" y1="131.13" x2="49.96" y2="139.80" stroke="#777" stroke-width="0.6" />
<line x1="48.96" y1="131.13" x2="50.96" y2="131.13" stroke="#777" stroke-width="0.6" />
<line x1="48.96" y1="139.80" x2="50.96" y2="139.80" stroke="#777" stroke-width="0.6" />
<line x1="67.82" y1="132.58" x2="67.82" y2="141.24" stroke="#777" stroke-width="0.6" />
<line x1="66.82" y1="132.58" x2="68.82" y2="132.58" stroke="#777" stroke-width="0.6" />
<line x1="66.82" y1="141.24" x2="68.82" y2="141.24" stroke="#777" stroke-width="0.6" />
<line x1="85.68" y1="148.10" x2="85.68" y2="162.54" stroke="#777" stroke-width="0.6" />
<line x1="84.68" y1="148.10" x2="86.68" y2="148.10" stroke="#777" stroke-width="0.6" />
<line x1="84.68" y1="162.54" x2="86.68" y2="162.54" stroke="#777" stroke-width="0.6" />
<line x1="103.54" y1="163.62" x2="103.54" y2="172.29" stroke="#777" stroke-width="0.6" />
<line x1="102.54" y1="163.62" x2="104.54" y2="163.62" stroke="#777" stroke-width="0.6" />
<line x1="102.54" y1="172.29" x2="104.54" y2="172.29" stroke="#777" stroke-width="0.6" />
<line x1="121.40" y1="165.79" x2="121.40" y2="178.79" stroke="#777" stroke-width="0.6" />
<line x1="120.40" y1="165.79" x2="122.40" y2="165.79" stroke="#777" stroke-width="0.6" />
<line x1="120.40" y1="178.79" x2="122.40" y2="178.79" stroke="#777" stroke-width="0.6" />
<line x1="139.26" y1="175.39" x2="139.26" y2="186.94" stroke="#777" stroke-width="0.6" />
<line x1="138.26" y1="175.39" x2="140.26" y2="175.39" stroke="#777" stroke-width="0.6" />
<line x1="138.26" y1="186.94" x2="140.26" y2="186.94" stroke="#777" stroke-width="0.6" />
<line x1="157.12" y1="175.97" x2="157.12" y2="196.19" stroke="#777" stroke-width="0.6" />
<line x1="156.12" y1="175.97" x2="158.12" y2="175.97" stroke="#777" stroke-width="0.6" />
<line x1="156.12" y1="196.19" x2="158.12" y2="196.19" stroke="#777" stroke-width="0.6" />
<line x1="32.10" y1="130.41" x2="32.10" y2="136.19" stroke="#444" stroke-width="0.6" />
<line x1="31.10" y1="130.41" x2="33.10" y2="130.41" stroke="#444" stroke-width="0.6" />
<line x1="31.10" y1="136.19" x2="33.10" y2="136.19" stroke="#444" stroke-width="0.6" />
<line x1="49.96" y1="133.30" x2="49.96" y2="139.08" stroke="#444" stroke-width="0.6" />
<line x1="48.96" y1="133.30" x2="50.96" y2="133.30" stroke="#444" stroke-width="0.6" />
<line x1="48.96" y1="139.08" x2="50.96" y2="139.08" stroke="#444" stroke-width="0.6" />
<line x1="67.82" y1="139.08" x2="67.82" y2="146.30" stroke="#444" stroke-width="0.6" />
<line x1="66.82" y1="139.08" x2="68.82" y2="139.08" stroke="#444" stroke-width="0.6" />
<line x1="66.82" y1="146.30" x2="68.82" y2="146.30" stroke="#444" stroke-width="0.6" />
<line x1="85.68" y1="141.96" x2="85.68" y2="149.18" stroke="#444" stroke-width="0.6" />
<line x1="84.68" y1="141.96" x2="86.68" y2="141.96" stroke="#444" stroke-width="0.6" />
<line x1="84.68" y1="149.18" x2="86.68" y2="149.18" stroke="#444" stroke-width="0.6" />
<line x1="103.54" y1="149.04" x2="103.54" y2="159.15" stroke="#444" stroke-width="0.6" />
<line x1="102.54" y1="149.04" x2="104.54" y2="149.04" stroke="#444" stroke-width="0.6" />
<line x1="102.54" y1="159.15" x2="104.54" y2="159.15" stroke="#444" stroke-width="0.6" />
<line x1="121.40" y1="151.49" x2="121.40" y2="163.05" stroke="#444" stroke-width="0.6" />
<line x1="120.40" y1="151.49" x2="122.40" y2="151.49" stroke="#444" stroke-width="0.6" />
<line x1="120.40" y1="163.05" x2="122.40" y2="163.05" stroke="#444" stroke-width="0.6" />
<line x1="139.26" y1="169.83" x2="139.26" y2="175.61" stroke="#444" stroke-width="0.6" />
<line x1="138.26" y1="169.83" x2="140.26" y2="169.83" stroke="#444" stroke-width="0.6" />
<line x1="138.26" y1="175.61" x2="140.26" y2="175.61" stroke="#444" stroke-width="0.6" />
<line x1="157.12" y1="176.62" x2="157.12" y2="183.84" stroke="#444" stroke-width="0.6" />
<line x1="156.12" y1="176.62" x2="158.12" y2="176.62" stroke="#444" stroke-width="0.6" />
<line x1="156.12" y1="183.84" x2="158.12" y2="183.84" stroke="#444" stroke-width="0.6" />
<polygon points="32.10,131.40 34.00,134.82 30.20,134.82" fill="#111" stroke="none" stroke-width="0.6"/>
<polygon points="49.96,134.29 51.86,137.71 48.06,137.71" fill="#111" stroke="none" stroke-width="0.6"/>
<polygon points="67.82,140.79 69.72,144.21 65.92,144.21" fill="#111" stroke="none" stroke-width="0.6"/>
<polygon points="85.68,143.67 87.58,147.09 83.78,147.09" fill="#111" stroke="none" stroke-width="0.6"/>
<polygon points="103.54,152.19 105.44,155.61 101.64,155.61" fill="#111" stroke="none" stroke-width="0.6"/>
<polygon points="121.40,155.37 123.30,158.79 119.50,158.79" fill="#111" stroke="none" stroke-width="0.6"/>
<polygon points="139.26,170.82 141.16,174.24 137.36,174.24" fill="#111" stroke="none" stroke-width="0.6"/>
<polygon points="157.12,178.33 159.02,181.75 155.22,181.75" fill="#111" stroke="none" stroke-width="0.6"/>
<rect x="30.60" y="131.80" width="3.00" height="3.00" fill="#cfcfcf" stroke="#3a3a3a" stroke-width="0.9"/>
<rect x="48.46" y="133.97" width="3.00" height="3.00" fill="#cfcfcf" stroke="#3a3a3a" stroke-width="0.9"/>
<rect x="66.32" y="135.41" width="3.00" height="3.00" fill="#cfcfcf" stroke="#3a3a3a" stroke-width="0.9"/>
<rect x="84.18" y="153.82" width="3.00" height="3.00" fill="#cfcfcf" stroke="#3a3a3a" stroke-width="0.9"/>
<rect x="102.04" y="166.46" width="3.00" height="3.00" fill="#cfcfcf" stroke="#3a3a3a" stroke-width="0.9"/>
<rect x="119.90" y="170.79" width="3.00" height="3.00" fill="#cfcfcf" stroke="#3a3a3a" stroke-width="0.9"/>
<rect x="137.76" y="179.67" width="3.00" height="3.00" fill="#8e8e8e" stroke="#555" stroke-width="0.9"/>
<rect x="155.62" y="184.58" width="3.00" height="3.00" fill="#8e8e8e" stroke="#555" stroke-width="0.9"/>
<circle cx="32.10" cy="133.30" r="1.55" fill="#fff" stroke="#555" stroke-width="0.7"/>
<circle cx="49.96" cy="134.74" r="1.55" fill="#fff" stroke="#555" stroke-width="0.7"/>
<circle cx="67.82" cy="136.19" r="1.55" fill="#fff" stroke="#555" stroke-width="0.7"/>
<circle cx="85.68" cy="145.57" r="1.55" fill="#fff" stroke="#555" stroke-width="0.7"/>
<circle cx="103.54" cy="147.88" r="1.55" fill="#fff" stroke="#555" stroke-width="0.7"/>
<circle cx="121.40" cy="150.05" r="1.55" fill="#fff" stroke="#555" stroke-width="0.7"/>
<circle cx="139.26" cy="155.90" r="1.55" fill="#fff" stroke="#555" stroke-width="0.7"/>
<circle cx="157.12" cy="170.12" r="1.55" fill="#aaa" stroke="#888" stroke-width="0.7"/>
<line x1="27.50" y1="183.20" x2="35.00" y2="183.20" stroke="#333" stroke-width="0.8" />
<polygon points="31.20,181.55 32.75,184.34 29.65,184.34" fill="#111" stroke="none" stroke-width="0.6"/>
<text x="37.40" y="185.00" font-size="4.9" font-weight="bold" text-anchor="start" fill="#222" stroke="#222" stroke-width="0.12" >MEC1</text>
<line x1="28.00" y1="190.90" x2="34.50" y2="190.90" stroke="#777" stroke-width="0.8" />
<rect x="30.00" y="189.70" width="2.40" height="2.40" fill="#cfcfcf" stroke="#3a3a3a" stroke-width="0.8"/>
<text x="37.40" y="192.30" font-size="4.9" font-weight="bold" text-anchor="start" fill="#222" stroke="#222" stroke-width="0.12" >RL</text>
<polygon points="31.20,196.60 32.70,198.10 31.20,199.60 29.70,198.10" fill="#fff" stroke="#333" stroke-width="0.8"/>
<text x="37.40" y="199.80" font-size="4.9" font-weight="bold" text-anchor="start" fill="#222" stroke="#222" stroke-width="0.12" >WM-WSU</text>
<line x1="209.40" y1="126.80" x2="209.40" y2="205.50" stroke="#e0e0e0" stroke-width="1" />
<line x1="208.90" y1="205.00" x2="338.00" y2="205.00" stroke="#e0e0e0" stroke-width="1" />
<line x1="209.40" y1="205.00" x2="209.40" y2="206.50" stroke="#e0e0e0" stroke-width="1" />
<line x1="235.10" y1="205.00" x2="235.10" y2="206.50" stroke="#e0e0e0" stroke-width="1" />
<line x1="260.80" y1="205.00" x2="260.80" y2="206.50" stroke="#e0e0e0" stroke-width="1" />
<line x1="286.50" y1="205.00" x2="286.50" y2="206.50" stroke="#e0e0e0" stroke-width="1" />
<line x1="312.20" y1="205.00" x2="312.20" y2="206.50" stroke="#e0e0e0" stroke-width="1" />
<line x1="337.90" y1="205.00" x2="337.90" y2="206.50" stroke="#e0e0e0" stroke-width="1" />
<line x1="207.90" y1="205.00" x2="209.40" y2="205.00" stroke="#e0e0e0" stroke-width="1" />
<line x1="207.90" y1="172.60" x2="209.40" y2="172.60" stroke="#e0e0e0" stroke-width="1" />
<line x1="207.90" y1="140.20" x2="209.40" y2="140.20" stroke="#e0e0e0" stroke-width="1" />
<text x="185.00" y="121.00" font-size="11" font-weight="bold" text-anchor="start" fill="#000" stroke="#000" stroke-width="0.1" >E</text>
<text x="204.60" y="207.20" font-size="6.2" font-weight="bold" text-anchor="end" fill="#000" stroke="#000" stroke-width="0.26" >0</text>
<text x="204.60" y="174.80" font-size="6.2" font-weight="bold" text-anchor="end" fill="#000" stroke="#000" stroke-width="0.26" >50</text>
<text x="204.60" y="142.40" font-size="6.2" font-weight="bold" text-anchor="end" fill="#000" stroke="#000" stroke-width="0.26" >100</text>
<text x="188.90" y="165.30" font-size="6.0" font-weight="bold" text-anchor="middle" fill="#000" stroke="#000" stroke-width="0.26" transform="rotate(-90 188.90 165.30)" >% of control</text>
<text x="222.60" y="217.60" font-size="6.2" font-weight="bold" text-anchor="middle" fill="#000" stroke="#000" stroke-width="0.26" >0</text>
<text x="248.30" y="217.60" font-size="6.2" font-weight="bold" text-anchor="middle" fill="#000" stroke="#000" stroke-width="0.26" >5</text>
<text x="274.00" y="217.60" font-size="6.2" font-weight="bold" text-anchor="middle" fill="#000" stroke="#000" stroke-width="0.26" >10</text>
<text x="299.70" y="217.60" font-size="6.2" font-weight="bold" text-anchor="middle" fill="#000" stroke="#000" stroke-width="0.26" >15</text>
<text x="325.40" y="217.60" font-size="6.2" font-weight="bold" text-anchor="middle" fill="#000" stroke="#000" stroke-width="0.26" >20</text>
<text x="272.10" y="225.70" font-size="6.45" font-weight="bold" text-anchor="middle" fill="#000" stroke="#000" stroke-width="0.26" >Enzastaurin (&#181;M)</text>
<polyline points="222.60,140.20 248.30,163.79 274.00,169.49 299.70,183.81 325.40,192.04" fill="none" stroke="#c4c4c4" stroke-width="0.8" stroke-linejoin="round"/>
<polyline points="222.60,140.20 248.30,151.86 274.00,164.95 299.70,170.66 325.40,182.64" fill="none" stroke="#8a8a8a" stroke-width="0.8" stroke-linejoin="round"/>
<polyline points="222.60,140.20 248.30,142.92 274.00,150.44 299.70,170.01 325.40,182.06" fill="none" stroke="#262626" stroke-width="0.9" stroke-linejoin="round"/>
<line x1="222.60" y1="133.72" x2="222.60" y2="146.68" stroke="#8a8a8a" stroke-width="0.55" />
<line x1="221.50" y1="133.72" x2="223.70" y2="133.72" stroke="#8a8a8a" stroke-width="0.55" />
<line x1="221.50" y1="146.68" x2="223.70" y2="146.68" stroke="#8a8a8a" stroke-width="0.55" />
<line x1="248.30" y1="157.96" x2="248.30" y2="169.62" stroke="#8a8a8a" stroke-width="0.55" />
<line x1="247.20" y1="157.96" x2="249.40" y2="157.96" stroke="#8a8a8a" stroke-width="0.55" />
<line x1="247.20" y1="169.62" x2="249.40" y2="169.62" stroke="#8a8a8a" stroke-width="0.55" />
<line x1="274.00" y1="165.60" x2="274.00" y2="173.38" stroke="#8a8a8a" stroke-width="0.55" />
<line x1="272.90" y1="165.60" x2="275.10" y2="165.60" stroke="#8a8a8a" stroke-width="0.55" />
<line x1="272.90" y1="173.38" x2="275.10" y2="173.38" stroke="#8a8a8a" stroke-width="0.55" />
<line x1="299.70" y1="179.92" x2="299.70" y2="187.70" stroke="#8a8a8a" stroke-width="0.55" />
<line x1="298.60" y1="179.92" x2="300.80" y2="179.92" stroke="#8a8a8a" stroke-width="0.55" />
<line x1="298.60" y1="187.70" x2="300.80" y2="187.70" stroke="#8a8a8a" stroke-width="0.55" />
<line x1="325.40" y1="186.86" x2="325.40" y2="197.22" stroke="#8a8a8a" stroke-width="0.55" />
<line x1="324.30" y1="186.86" x2="326.50" y2="186.86" stroke="#8a8a8a" stroke-width="0.55" />
<line x1="324.30" y1="197.22" x2="326.50" y2="197.22" stroke="#8a8a8a" stroke-width="0.55" />
<line x1="222.60" y1="134.37" x2="222.60" y2="146.03" stroke="#555" stroke-width="0.6" />
<line x1="221.50" y1="134.37" x2="223.70" y2="134.37" stroke="#555" stroke-width="0.6" />
<line x1="221.50" y1="146.03" x2="223.70" y2="146.03" stroke="#555" stroke-width="0.6" />
<line x1="248.30" y1="142.79" x2="248.30" y2="160.94" stroke="#555" stroke-width="0.6" />
<line x1="247.20" y1="142.79" x2="249.40" y2="142.79" stroke="#555" stroke-width="0.6" />
<line x1="247.20" y1="160.94" x2="249.40" y2="160.94" stroke="#555" stroke-width="0.6" />
<line x1="274.00" y1="158.47" x2="274.00" y2="171.43" stroke="#555" stroke-width="0.6" />
<line x1="272.90" y1="158.47" x2="275.10" y2="158.47" stroke="#555" stroke-width="0.6" />
<line x1="272.90" y1="171.43" x2="275.10" y2="171.43" stroke="#555" stroke-width="0.6" />
<line x1="299.70" y1="168.71" x2="299.70" y2="172.60" stroke="#555" stroke-width="0.6" />
<line x1="298.60" y1="168.71" x2="300.80" y2="168.71" stroke="#555" stroke-width="0.6" />
<line x1="298.60" y1="172.60" x2="300.80" y2="172.60" stroke="#555" stroke-width="0.6" />
<line x1="325.40" y1="178.11" x2="325.40" y2="187.18" stroke="#555" stroke-width="0.6" />
<line x1="324.30" y1="178.11" x2="326.50" y2="178.11" stroke="#555" stroke-width="0.6" />
<line x1="324.30" y1="187.18" x2="326.50" y2="187.18" stroke="#555" stroke-width="0.6" />
<line x1="222.60" y1="133.72" x2="222.60" y2="146.68" stroke="#333" stroke-width="0.5" />
<line x1="221.50" y1="133.72" x2="223.70" y2="133.72" stroke="#333" stroke-width="0.5" />
<line x1="221.50" y1="146.68" x2="223.70" y2="146.68" stroke="#333" stroke-width="0.5" />
<line x1="248.30" y1="141.63" x2="248.30" y2="144.22" stroke="#333" stroke-width="0.5" />
<line x1="247.20" y1="141.63" x2="249.40" y2="141.63" stroke="#333" stroke-width="0.5" />
<line x1="247.20" y1="144.22" x2="249.40" y2="144.22" stroke="#333" stroke-width="0.5" />
<line x1="274.00" y1="149.47" x2="274.00" y2="151.41" stroke="#333" stroke-width="0.5" />
<line x1="272.90" y1="149.47" x2="275.10" y2="149.47" stroke="#333" stroke-width="0.5" />
<line x1="272.90" y1="151.41" x2="275.10" y2="151.41" stroke="#333" stroke-width="0.5" />
<line x1="299.70" y1="168.06" x2="299.70" y2="171.95" stroke="#333" stroke-width="0.5" />
<line x1="298.60" y1="168.06" x2="300.80" y2="168.06" stroke="#333" stroke-width="0.5" />
<line x1="298.60" y1="171.95" x2="300.80" y2="171.95" stroke="#333" stroke-width="0.5" />
<line x1="325.40" y1="176.88" x2="325.40" y2="187.24" stroke="#333" stroke-width="0.5" />
<line x1="324.30" y1="176.88" x2="326.50" y2="176.88" stroke="#333" stroke-width="0.5" />
<line x1="324.30" y1="187.24" x2="326.50" y2="187.24" stroke="#333" stroke-width="0.5" />
<circle cx="222.60" cy="140.20" r="0.9" fill="#eee" stroke="#999" stroke-width="0.4"/>
<circle cx="248.30" cy="163.79" r="0.9" fill="#eee" stroke="#999" stroke-width="0.4"/>
<circle cx="274.00" cy="169.49" r="0.9" fill="#eee" stroke="#999" stroke-width="0.4"/>
<circle cx="299.70" cy="183.81" r="0.9" fill="#eee" stroke="#999" stroke-width="0.4"/>
<circle cx="325.40" cy="192.04" r="0.9" fill="#eee" stroke="#999" stroke-width="0.4"/>
<circle cx="222.60" cy="140.20" r="0.9" fill="#aaa" stroke="#666" stroke-width="0.4"/>
<circle cx="248.30" cy="151.86" r="0.9" fill="#aaa" stroke="#666" stroke-width="0.4"/>
<circle cx="274.00" cy="164.95" r="0.9" fill="#aaa" stroke="#666" stroke-width="0.4"/>
<circle cx="299.70" cy="170.66" r="0.9" fill="#aaa" stroke="#666" stroke-width="0.4"/>
<circle cx="325.40" cy="182.64" r="0.9" fill="#aaa" stroke="#666" stroke-width="0.4"/>
<circle cx="222.60" cy="140.20" r="0.8" fill="#111" stroke="none" stroke-width="0.6"/>
<circle cx="248.30" cy="142.92" r="1.25" fill="#111" stroke="none" stroke-width="0.6"/>
<circle cx="274.00" cy="150.44" r="1.25" fill="#111" stroke="none" stroke-width="0.6"/>
<circle cx="299.70" cy="170.01" r="1.25" fill="#111" stroke="none" stroke-width="0.6"/>
<circle cx="325.40" cy="182.06" r="1.25" fill="#111" stroke="none" stroke-width="0.6"/>
<line x1="378.80" y1="143.50" x2="378.80" y2="205.60" stroke="#d0d0d0" stroke-width="1" />
<line x1="378.30" y1="205.10" x2="520.00" y2="205.10" stroke="#d0d0d0" stroke-width="1" />
<line x1="378.80" y1="205.10" x2="378.80" y2="206.60" stroke="#d0d0d0" stroke-width="1" />
<line x1="407.40" y1="205.10" x2="407.40" y2="206.60" stroke="#d0d0d0" stroke-width="1" />
<line x1="436.00" y1="205.10" x2="436.00" y2="206.60" stroke="#d0d0d0" stroke-width="1" />
<line x1="464.60" y1="205.10" x2="464.60" y2="206.60" stroke="#d0d0d0" stroke-width="1" />
<line x1="493.20" y1="205.10" x2="493.20" y2="206.60" stroke="#d0d0d0" stroke-width="1" />
<line x1="377.30" y1="205.10" x2="378.80" y2="205.10" stroke="#d0d0d0" stroke-width="1" />
<line x1="377.30" y1="178.90" x2="378.80" y2="178.90" stroke="#d0d0d0" stroke-width="1" />
<line x1="377.30" y1="152.70" x2="378.80" y2="152.70" stroke="#d0d0d0" stroke-width="1" />
<text x="353.60" y="121.40" font-size="11" font-weight="bold" text-anchor="start" fill="#000" stroke="#000" stroke-width="0.1" >F</text>
<text x="373.40" y="207.40" font-size="6.4" font-weight="bold" text-anchor="end" fill="#000" stroke="#000" stroke-width="0.26" >0</text>
<text x="373.40" y="181.20" font-size="6.4" font-weight="bold" text-anchor="end" fill="#000" stroke="#000" stroke-width="0.26" >50</text>
<text x="373.40" y="155.00" font-size="6.4" font-weight="bold" text-anchor="end" fill="#000" stroke="#000" stroke-width="0.26" >100</text>
<text x="359.00" y="177.70" font-size="6.05" font-weight="bold" text-anchor="middle" fill="#000" stroke="#000" stroke-width="0.26" transform="rotate(-90 359.00 177.70)" >% of control</text>
<text x="392.60" y="217.70" font-size="6.5" font-weight="bold" text-anchor="middle" fill="#000" stroke="#000" stroke-width="0.26" >0</text>
<text x="421.20" y="217.70" font-size="6.5" font-weight="bold" text-anchor="middle" fill="#000" stroke="#000" stroke-width="0.26" >5</text>
<text x="449.80" y="217.70" font-size="6.5" font-weight="bold" text-anchor="middle" fill="#000" stroke="#000" stroke-width="0.26" >10</text>
<text x="478.40" y="217.70" font-size="6.5" font-weight="bold" text-anchor="middle" fill="#000" stroke="#000" stroke-width="0.26" >15</text>
<text x="507.00" y="217.70" font-size="6.5" font-weight="bold" text-anchor="middle" fill="#000" stroke="#000" stroke-width="0.26" >20</text>
<text x="439.30" y="228.00" font-size="6.6" font-weight="bold" text-anchor="middle" fill="#000" stroke="#000" stroke-width="0.26" >Enzastaurin (&#181;M)</text>
<polyline points="392.60,152.70 421.20,153.22 449.80,151.13 478.40,149.03 507.00,150.60" fill="none" stroke="#b0b0b0" stroke-width="0.8" stroke-linejoin="round"/>
<polyline points="392.60,152.70 421.20,152.70 449.80,152.70 478.40,154.53 507.00,154.27" fill="none" stroke="#666" stroke-width="0.7" stroke-linejoin="round"/>
<polyline points="392.60,152.70 421.20,152.70 449.80,154.80 478.40,152.70 507.00,154.80" fill="none" stroke="#2a2a2a" stroke-width="0.75" stroke-linejoin="round"/>
<line x1="392.60" y1="150.08" x2="392.60" y2="155.32" stroke="#777" stroke-width="0.5" />
<line x1="391.70" y1="150.08" x2="393.50" y2="150.08" stroke="#777" stroke-width="0.5" />
<line x1="391.70" y1="155.32" x2="393.50" y2="155.32" stroke="#777" stroke-width="0.5" />
<line x1="421.20" y1="150.60" x2="421.20" y2="155.84" stroke="#777" stroke-width="0.5" />
<line x1="420.30" y1="150.60" x2="422.10" y2="150.60" stroke="#777" stroke-width="0.5" />
<line x1="420.30" y1="155.84" x2="422.10" y2="155.84" stroke="#777" stroke-width="0.5" />
<line x1="449.80" y1="147.98" x2="449.80" y2="154.27" stroke="#777" stroke-width="0.5" />
<line x1="448.90" y1="147.98" x2="450.70" y2="147.98" stroke="#777" stroke-width="0.5" />
<line x1="448.90" y1="154.27" x2="450.70" y2="154.27" stroke="#777" stroke-width="0.5" />
<line x1="478.40" y1="145.89" x2="478.40" y2="152.18" stroke="#777" stroke-width="0.5" />
<line x1="477.50" y1="145.89" x2="479.30" y2="145.89" stroke="#777" stroke-width="0.5" />
<line x1="477.50" y1="152.18" x2="479.30" y2="152.18" stroke="#777" stroke-width="0.5" />
<line x1="507.00" y1="149.03" x2="507.00" y2="152.18" stroke="#777" stroke-width="0.5" />
<line x1="506.10" y1="149.03" x2="507.90" y2="149.03" stroke="#777" stroke-width="0.5" />
<line x1="506.10" y1="152.18" x2="507.90" y2="152.18" stroke="#777" stroke-width="0.5" />
<line x1="392.60" y1="150.60" x2="392.60" y2="154.80" stroke="#333" stroke-width="0.55" />
<line x1="391.70" y1="150.60" x2="393.50" y2="150.60" stroke="#333" stroke-width="0.55" />
<line x1="391.70" y1="154.80" x2="393.50" y2="154.80" stroke="#333" stroke-width="0.55" />
<line x1="421.20" y1="150.60" x2="421.20" y2="154.80" stroke="#333" stroke-width="0.55" />
<line x1="420.30" y1="150.60" x2="422.10" y2="150.60" stroke="#333" stroke-width="0.55" />
<line x1="420.30" y1="154.80" x2="422.10" y2="154.80" stroke="#333" stroke-width="0.55" />
<line x1="449.80" y1="152.18" x2="449.80" y2="157.42" stroke="#333" stroke-width="0.55" />
<line x1="448.90" y1="152.18" x2="450.70" y2="152.18" stroke="#333" stroke-width="0.55" />
<line x1="448.90" y1="157.42" x2="450.70" y2="157.42" stroke="#333" stroke-width="0.55" />
<line x1="478.40" y1="149.56" x2="478.40" y2="155.84" stroke="#333" stroke-width="0.55" />
<line x1="477.50" y1="149.56" x2="479.30" y2="149.56" stroke="#333" stroke-width="0.55" />
<line x1="477.50" y1="155.84" x2="479.30" y2="155.84" stroke="#333" stroke-width="0.55" />
<line x1="507.00" y1="153.22" x2="507.00" y2="156.37" stroke="#333" stroke-width="0.55" />
<line x1="506.10" y1="153.22" x2="507.90" y2="153.22" stroke="#333" stroke-width="0.55" />
<line x1="506.10" y1="156.37" x2="507.90" y2="156.37" stroke="#333" stroke-width="0.55" />
<rect x="391.65" y="151.75" width="1.90" height="1.90" fill="#555" stroke="none" stroke-width="0.6"/>
<rect x="420.25" y="152.27" width="1.90" height="1.90" fill="#555" stroke="none" stroke-width="0.6"/>
<rect x="448.85" y="150.18" width="1.90" height="1.90" fill="#555" stroke="none" stroke-width="0.6"/>
<rect x="477.45" y="148.08" width="1.90" height="1.90" fill="#555" stroke="none" stroke-width="0.6"/>
<rect x="506.05" y="149.65" width="1.90" height="1.90" fill="#555" stroke="none" stroke-width="0.6"/>
<rect x="391.65" y="151.75" width="1.90" height="1.90" fill="#333" stroke="none" stroke-width="0.6"/>
<rect x="420.25" y="151.75" width="1.90" height="1.90" fill="#333" stroke="none" stroke-width="0.6"/>
<rect x="448.85" y="151.75" width="1.90" height="1.90" fill="#333" stroke="none" stroke-width="0.6"/>
<rect x="477.45" y="153.58" width="1.90" height="1.90" fill="#333" stroke="none" stroke-width="0.6"/>
<rect x="506.05" y="153.32" width="1.90" height="1.90" fill="#333" stroke="none" stroke-width="0.6"/>
<rect x="391.60" y="151.70" width="2.00" height="2.00" fill="#111" stroke="none" stroke-width="0.6"/>
<rect x="420.20" y="151.70" width="2.00" height="2.00" fill="#111" stroke="none" stroke-width="0.6"/>
<rect x="448.80" y="153.80" width="2.00" height="2.00" fill="#111" stroke="none" stroke-width="0.6"/>
<rect x="477.40" y="151.70" width="2.00" height="2.00" fill="#111" stroke="none" stroke-width="0.6"/>
<rect x="506.00" y="153.80" width="2.00" height="2.00" fill="#111" stroke="none" stroke-width="0.6"/>
<line x1="27.90" y1="243.40" x2="27.90" y2="319.00" stroke="#777" stroke-width="0.9" />
<line x1="27.40" y1="318.50" x2="190.60" y2="318.50" stroke="#777" stroke-width="0.9" />
<line x1="27.90" y1="318.50" x2="27.90" y2="320.30" stroke="#777" stroke-width="0.9" />
<line x1="60.40" y1="318.50" x2="60.40" y2="320.30" stroke="#777" stroke-width="0.9" />
<line x1="92.90" y1="318.50" x2="92.90" y2="320.30" stroke="#777" stroke-width="0.9" />
<line x1="125.40" y1="318.50" x2="125.40" y2="320.30" stroke="#777" stroke-width="0.9" />
<line x1="157.90" y1="318.50" x2="157.90" y2="320.30" stroke="#777" stroke-width="0.9" />
<line x1="190.40" y1="318.50" x2="190.40" y2="320.30" stroke="#777" stroke-width="0.9" />
<line x1="26.10" y1="318.50" x2="27.90" y2="318.50" stroke="#777" stroke-width="0.9" />
<line x1="26.10" y1="303.60" x2="27.90" y2="303.60" stroke="#777" stroke-width="0.9" />
<line x1="26.10" y1="288.70" x2="27.90" y2="288.70" stroke="#777" stroke-width="0.9" />
<line x1="26.10" y1="273.80" x2="27.90" y2="273.80" stroke="#777" stroke-width="0.9" />
<line x1="26.10" y1="258.90" x2="27.90" y2="258.90" stroke="#777" stroke-width="0.9" />
<line x1="26.10" y1="244.00" x2="27.90" y2="244.00" stroke="#777" stroke-width="0.9" />
<text x="0.80" y="240.40" font-size="11.5" font-weight="bold" text-anchor="start" fill="#000" stroke="#000" stroke-width="0.1" >G</text>
<text x="24.40" y="320.60" font-size="5.9" font-weight="bold" text-anchor="end" fill="#000" stroke="#000" stroke-width="0.26" >0</text>
<text x="24.40" y="305.70" font-size="5.9" font-weight="bold" text-anchor="end" fill="#000" stroke="#000" stroke-width="0.26" >50</text>
<text x="24.40" y="290.80" font-size="5.9" font-weight="bold" text-anchor="end" fill="#000" stroke="#000" stroke-width="0.26" >100</text>
<text x="24.40" y="275.90" font-size="5.9" font-weight="bold" text-anchor="end" fill="#000" stroke="#000" stroke-width="0.26" >150</text>
<text x="24.40" y="261.00" font-size="5.9" font-weight="bold" text-anchor="end" fill="#000" stroke="#000" stroke-width="0.26" >200</text>
<text x="24.40" y="246.10" font-size="5.9" font-weight="bold" text-anchor="end" fill="#000" stroke="#000" stroke-width="0.26" >250</text>
<text x="6.60" y="282.10" font-size="6.43" font-weight="bold" text-anchor="middle" fill="#000" stroke="#000" stroke-width="0.26" transform="rotate(-90 6.60 282.10)" >Colony formation units</text>
<text x="35.30" y="249.20" font-size="6.8" font-weight="bold" text-anchor="start" fill="#000" stroke="#000" stroke-width="0.26" >Enzastaurin (&#181;M)</text>
<rect x="39.30" y="254.30" width="3.30" height="3.30" fill="#000" stroke="none" stroke-width="0.5"/>
<text x="45.00" y="257.90" font-size="6.2" font-weight="bold" text-anchor="start" fill="#000" stroke="#000" stroke-width="0.26" >0</text>
<rect x="54.30" y="254.40" width="3.10" height="3.10" fill="#868686" stroke="#444" stroke-width="0.6"/>
<text x="59.80" y="257.90" font-size="6.2" font-weight="bold" text-anchor="start" fill="#000" stroke="#000" stroke-width="0.26" >15</text>
<rect x="72.80" y="254.40" width="3.10" height="3.10" fill="#dadada" stroke="#444" stroke-width="0.6"/>
<text x="78.20" y="257.90" font-size="6.2" font-weight="bold" text-anchor="start" fill="#000" stroke="#000" stroke-width="0.26" >20</text>
<rect x="33.50" y="288.10" width="7.36" height="30.40" fill="#000" stroke="#000" stroke-width="0.55"/>
<line x1="37.18" y1="285.72" x2="37.18" y2="288.10" stroke="#333" stroke-width="0.5" />
<line x1="36.18" y1="285.72" x2="38.18" y2="285.72" stroke="#333" stroke-width="0.5" />
<line x1="36.18" y1="288.10" x2="38.18" y2="288.10" stroke="#333" stroke-width="0.5" />
<rect x="40.86" y="293.17" width="7.36" height="25.33" fill="#868686" stroke="#3c3c3c" stroke-width="0.55"/>
<line x1="44.54" y1="290.19" x2="44.54" y2="296.15" stroke="#333" stroke-width="0.5" />
<line x1="43.54" y1="290.19" x2="45.54" y2="290.19" stroke="#333" stroke-width="0.5" />
<line x1="43.54" y1="296.15" x2="45.54" y2="296.15" stroke="#333" stroke-width="0.5" />
<rect x="48.22" y="292.57" width="7.36" height="25.93" fill="#c8c8c8" stroke="#3c3c3c" stroke-width="0.55"/>
<line x1="51.90" y1="291.68" x2="51.90" y2="293.47" stroke="#333" stroke-width="0.5" />
<line x1="50.90" y1="291.68" x2="52.90" y2="291.68" stroke="#333" stroke-width="0.5" />
<line x1="50.90" y1="293.47" x2="52.90" y2="293.47" stroke="#333" stroke-width="0.5" />
<rect x="65.80" y="308.37" width="7.36" height="10.13" fill="#000" stroke="#000" stroke-width="0.55"/>
<line x1="69.48" y1="306.58" x2="69.48" y2="308.37" stroke="#333" stroke-width="0.5" />
<line x1="68.48" y1="306.58" x2="70.48" y2="306.58" stroke="#333" stroke-width="0.5" />
<line x1="68.48" y1="308.37" x2="70.48" y2="308.37" stroke="#333" stroke-width="0.5" />
<rect x="73.16" y="310.01" width="7.36" height="8.49" fill="#868686" stroke="#3c3c3c" stroke-width="0.55"/>
<line x1="76.84" y1="309.41" x2="76.84" y2="310.60" stroke="#333" stroke-width="0.5" />
<line x1="75.84" y1="309.41" x2="77.84" y2="309.41" stroke="#333" stroke-width="0.5" />
<line x1="75.84" y1="310.60" x2="77.84" y2="310.60" stroke="#333" stroke-width="0.5" />
<rect x="80.52" y="311.05" width="7.36" height="7.45" fill="#c8c8c8" stroke="#3c3c3c" stroke-width="0.55"/>
<line x1="84.20" y1="307.47" x2="84.20" y2="314.63" stroke="#333" stroke-width="0.5" />
<line x1="83.20" y1="307.47" x2="85.20" y2="307.47" stroke="#333" stroke-width="0.5" />
<line x1="83.20" y1="314.63" x2="85.20" y2="314.63" stroke="#333" stroke-width="0.5" />
<rect x="98.40" y="304.61" width="7.36" height="13.89" fill="#000" stroke="#000" stroke-width="0.55"/>
<line x1="102.08" y1="304.02" x2="102.08" y2="304.61" stroke="#333" stroke-width="0.5" />
<line x1="101.08" y1="304.02" x2="103.08" y2="304.02" stroke="#333" stroke-width="0.5" />
<line x1="101.08" y1="304.61" x2="103.08" y2="304.61" stroke="#333" stroke-width="0.5" />
<rect x="105.76" y="305.39" width="7.36" height="13.11" fill="#868686" stroke="#3c3c3c" stroke-width="0.55"/>
<line x1="109.44" y1="303.90" x2="109.44" y2="306.88" stroke="#333" stroke-width="0.5" />
<line x1="108.44" y1="303.90" x2="110.44" y2="303.90" stroke="#333" stroke-width="0.5" />
<line x1="108.44" y1="306.88" x2="110.44" y2="306.88" stroke="#333" stroke-width="0.5" />
<rect x="113.12" y="302.71" width="7.36" height="15.79" fill="#c8c8c8" stroke="#3c3c3c" stroke-width="0.55"/>
<line x1="116.80" y1="301.22" x2="116.80" y2="304.20" stroke="#333" stroke-width="0.5" />
<line x1="115.80" y1="301.22" x2="117.80" y2="301.22" stroke="#333" stroke-width="0.5" />
<line x1="115.80" y1="304.20" x2="117.80" y2="304.20" stroke="#333" stroke-width="0.5" />
<rect x="130.30" y="311.94" width="7.36" height="6.56" fill="#000" stroke="#000" stroke-width="0.55"/>
<line x1="133.98" y1="311.65" x2="133.98" y2="311.94" stroke="#333" stroke-width="0.5" />
<line x1="132.98" y1="311.65" x2="134.98" y2="311.65" stroke="#333" stroke-width="0.5" />
<line x1="132.98" y1="311.94" x2="134.98" y2="311.94" stroke="#333" stroke-width="0.5" />
<rect x="137.66" y="312.69" width="7.36" height="5.81" fill="#868686" stroke="#3c3c3c" stroke-width="0.55"/>
<line x1="141.34" y1="311.80" x2="141.34" y2="313.58" stroke="#333" stroke-width="0.5" />
<line x1="140.34" y1="311.80" x2="142.34" y2="311.80" stroke="#333" stroke-width="0.5" />
<line x1="140.34" y1="313.58" x2="142.34" y2="313.58" stroke="#333" stroke-width="0.5" />
<rect x="145.02" y="311.65" width="7.36" height="6.85" fill="#c8c8c8" stroke="#3c3c3c" stroke-width="0.55"/>
<line x1="148.70" y1="309.26" x2="148.70" y2="314.03" stroke="#333" stroke-width="0.5" />
<line x1="147.70" y1="309.26" x2="149.70" y2="309.26" stroke="#333" stroke-width="0.5" />
<line x1="147.70" y1="314.03" x2="149.70" y2="314.03" stroke="#333" stroke-width="0.5" />
<rect x="162.90" y="258.01" width="7.36" height="60.49" fill="#000" stroke="#000" stroke-width="0.55"/>
<line x1="166.58" y1="257.11" x2="166.58" y2="258.01" stroke="#333" stroke-width="0.5" />
<line x1="165.58" y1="257.11" x2="167.58" y2="257.11" stroke="#333" stroke-width="0.5" />
<line x1="165.58" y1="258.01" x2="167.58" y2="258.01" stroke="#333" stroke-width="0.5" />
<rect x="170.26" y="266.05" width="7.36" height="52.45" fill="#868686" stroke="#3c3c3c" stroke-width="0.55"/>
<line x1="173.94" y1="261.58" x2="173.94" y2="270.52" stroke="#333" stroke-width="0.5" />
<line x1="172.94" y1="261.58" x2="174.94" y2="261.58" stroke="#333" stroke-width="0.5" />
<line x1="172.94" y1="270.52" x2="174.94" y2="270.52" stroke="#333" stroke-width="0.5" />
<rect x="177.62" y="263.67" width="7.36" height="54.83" fill="#c8c8c8" stroke="#3c3c3c" stroke-width="0.55"/>
<line x1="181.30" y1="262.18" x2="181.30" y2="265.16" stroke="#333" stroke-width="0.5" />
<line x1="180.30" y1="262.18" x2="182.30" y2="262.18" stroke="#333" stroke-width="0.5" />
<line x1="180.30" y1="265.16" x2="182.30" y2="265.16" stroke="#333" stroke-width="0.5" />
<text x="44.70" y="331.50" font-size="6.5" font-weight="bold" text-anchor="middle" fill="#000" stroke="#000" stroke-width="0.26" >BFU-E</text>
<text x="77.00" y="331.50" font-size="6.5" font-weight="bold" text-anchor="middle" fill="#000" stroke="#000" stroke-width="0.26" >CFU-GM</text>
<text x="109.60" y="331.50" font-size="6.5" font-weight="bold" text-anchor="middle" fill="#000" stroke="#000" stroke-width="0.26" >CFU-M</text>
<text x="142.00" y="331.50" font-size="6.5" font-weight="bold" text-anchor="middle" fill="#000" stroke="#000" stroke-width="0.26" >CFU-</text>
<text x="173.70" y="331.50" font-size="6.5" font-weight="bold" text-anchor="middle" fill="#000" stroke="#000" stroke-width="0.26" >total</text>
<text x="142.00" y="339.00" font-size="6.4" font-weight="bold" text-anchor="middle" fill="#000" stroke="#000" stroke-width="0.26" >GEMM</text>
</g>
</svg>
</body></html>
